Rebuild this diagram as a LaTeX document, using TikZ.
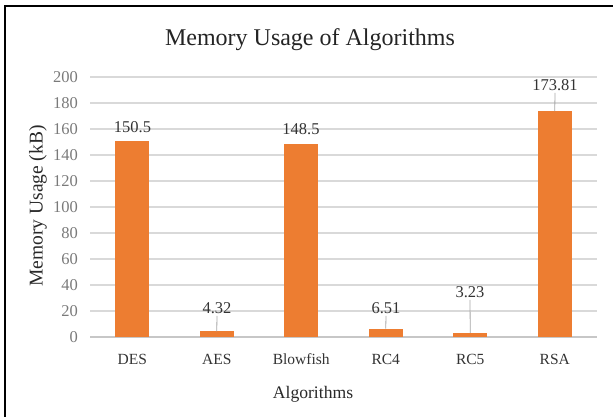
\documentclass[tikz,border=0pt]{standalone}
\usepackage{fontspec}
\setmainfont{Liberation Serif}
\definecolor{barorange}{HTML}{ED7D31}
\definecolor{gridgray}{HTML}{D9D9D9}
\definecolor{ticktext}{HTML}{7A7A7A}
\definecolor{labeltext}{HTML}{333333}
\definecolor{leadergray}{HTML}{A6A6A6}
\begin{document}
\begin{tikzpicture}[x=1pt,y=-1pt,
  gridline/.style={gridgray,line width=1.1pt},
  axisline/.style={gridgray!80!gray,line width=1.1pt},
  bar/.style={fill=barorange,draw=none},
  ticklabel/.style={text=ticktext,anchor=east,inner sep=0pt,font=\fontsize{16.5}{18}\selectfont},
  catlabel/.style={text=labeltext,inner sep=0pt,font=\fontsize{15.5}{18}\selectfont},
  datalabel/.style={text=labeltext,inner sep=0pt,font=\fontsize{16.5}{18}\selectfont},
  axistitle/.style={text=labeltext!80!black,inner sep=0pt,font=\fontsize{17.6}{20}\selectfont},
  leader/.style={leadergray,line width=0.8pt}]
\useasboundingbox (0,0) rectangle (613,416);
\begin{scope}
\clip (0,0) rectangle (613,416);
\draw[black,line width=1.8pt] (5,6) rectangle (625,430);
\end{scope}
% title
\node[text=labeltext!70!black,inner sep=0pt,font=\fontsize{24}{28}\selectfont] (title) at (310,40) {Memory Usage of Algorithms};
% grid
\foreach \k in {1,...,10} {
  \draw[gridline] (90,{337-26*\k}) -- (597,{337-26*\k});
}
\draw[axisline] (90,337) -- (597,337);
% tick labels
\foreach \k in {0,...,10} {
  \pgfmathtruncatemacro{\v}{20*\k}
  \node[ticklabel] (tick\k) at (78,{337-26*\k}) {\v};
}
% bars: centre, value
\foreach \n/\cx/\val in {des/132.25/150.5, aes/216.75/4.32, blow/301.25/148.5, rcfour/385.75/6.51, rcfive/470.25/3.23, rsa/554.75/173.81} {
  \fill[bar] ({\cx-17},337) rectangle ({\cx+17},{337-1.3*\val});
  \coordinate (top\n) at (\cx,{337-1.3*\val});
}
% category labels
\node[catlabel] (cdes) at (132.25,359) {DES};
\node[catlabel] (caes) at (216.75,359) {AES};
\node[catlabel] (cblow) at (301.25,359) {Blowfish};
\node[catlabel] (crcfour) at (385.75,359) {RC4};
\node[catlabel] (crcfive) at (470.25,359) {RC5};
\node[catlabel] (crsa) at (554.75,359) {RSA};
% data labels
\node[datalabel] (ldes) at (132.5,127) {150.5};
\node[datalabel] (laes) at (217,308) {4.32};
\node[datalabel] (lblow) at (301,129) {148.5};
\node[datalabel] (lrcfour) at (386,308) {6.51};
\node[datalabel] (lrcfive) at (470,292) {3.23};
\node[datalabel] (lrsa) at (555,85) {173.81};
% leader lines
\draw[leader] (laes.south) ++(0,2) coordinate (laesb) (laesb) -- (topaes);
\draw[leader] (lrcfour.south) ++(0,2) coordinate (lrcfourb) (lrcfourb) -- (toprcfour);
\draw[leader] (lrcfive.south) ++(0,2) coordinate (lrcfiveb) (lrcfiveb) -- (toprcfive);
\draw[leader] (lrsa.south) ++(0,2) coordinate (lrsab) (lrsab) -- (toprsa);
% axis titles
\node[axistitle] (xtitle) at (313,394) {Algorithms};
\node[axistitle,rotate=90,font=\fontsize{19.5}{22}\selectfont] (ytitle) at (38,206) {Memory Usage (kB)};
\end{tikzpicture}
\end{document}
